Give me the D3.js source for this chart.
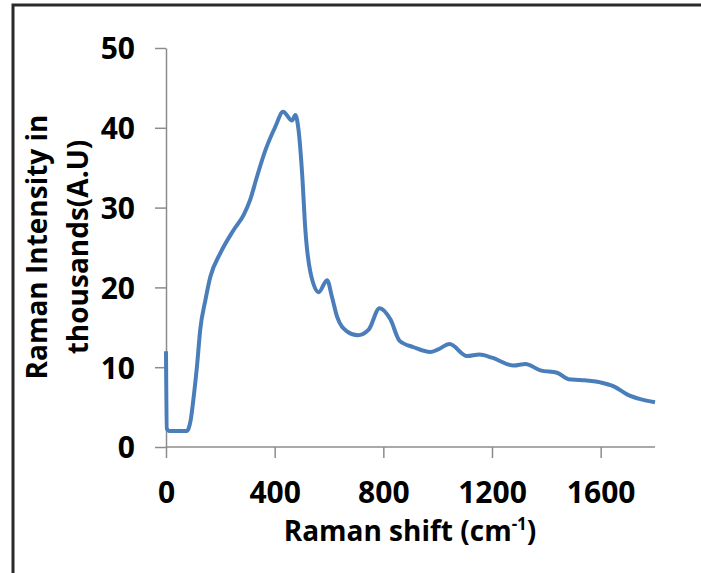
<!DOCTYPE html>
<html>
<head>
<meta charset="utf-8">
<script src="https://cdn.jsdelivr.net/npm/d3@7"></script>
<style>
  html, body { margin: 0; padding: 0; background: #fff; }
  svg { display: block; }
  .tick text { font-family: "Open Sans", sans-serif; font-weight: 700; fill: #000; }
</style>
</head>
<body>
<svg id="chart" width="701" height="573"></svg>
<script>
// Raman shift (cm^-1)
const shift = [0, 3, 12, 40, 76, 84, 90, 102, 114, 126, 145, 163, 200, 249, 286, 310, 335, 366, 402, 431, 464, 476, 488, 501, 513, 531, 562, 593, 611, 630, 666, 706, 746, 786, 826, 860, 912, 973, 1000, 1044, 1108, 1154, 1200, 1280, 1323, 1378, 1440, 1482, 1525, 1599, 1648, 1697, 1746, 1800];
// Raman intensity in thousands (A.U)
const intensity = [12.0, 2.3, 2.0, 2.0, 2.0, 2.4, 3.2, 6.3, 10.1, 14.7, 18.4, 21.3, 24.3, 27.2, 29.1, 31.0, 33.9, 37.2, 40.1, 42.0, 40.9, 41.6, 39.7, 34.3, 27.2, 22.0, 19.4, 20.9, 18.8, 16.3, 14.5, 14.0, 14.7, 17.4, 16.0, 13.3, 12.5, 11.9, 12.2, 12.9, 11.4, 11.6, 11.2, 10.2, 10.4, 9.6, 9.3, 8.5, 8.4, 8.1, 7.6, 6.6, 6.0, 5.6];
const xTicks = [0, 400, 800, 1200, 1600];
const yTicks = [0, 10, 20, 30, 40, 50];

const svg = d3.select("#chart");

// outer frame
svg.append("rect")
  .attr("x", 13).attr("y", 5).attr("width", 700).attr("height", 620)
  .attr("fill", "none").attr("stroke", "#2a2a2a").attr("stroke-width", 3);

const x = d3.scaleLinear().domain([0, 1800]).range([166, 655]);
const y = d3.scaleLinear().domain([0, 50]).range([447, 48]);

const axisColor = "#8c8c8c";

const gx = svg.append("g").attr("transform", "translate(0,447)")
  .call(d3.axisBottom(x).tickValues(xTicks).tickSize(11).tickSizeOuter(0).tickFormat(d3.format("d")));
gx.selectAll("path, line").attr("stroke", axisColor).attr("stroke-width", 1.5);
gx.selectAll("text").attr("font-size", 30).attr("dy", null).attr("y", 56);
gx.select(".domain").attr("d", `M${x(0)},0H${x(1800)}`);

const gy = svg.append("g").attr("transform", "translate(166,0)")
  .call(d3.axisLeft(y).tickValues(yTicks).tickSize(11).tickSizeOuter(0).tickPadding(20));
gy.selectAll("path, line").attr("stroke", axisColor).attr("stroke-width", 1.5);
gy.selectAll("text").attr("font-size", 30).attr("dy", "0.36em");

// data line
const data = shift.map((s, i) => [s, intensity[i]]);
svg.append("path")
  .datum(data)
  .attr("fill", "none")
  .attr("stroke", "#4a7ebb")
  .attr("stroke-width", 4)
  .attr("stroke-linejoin", "round")
  .attr("d", d3.line().x(d => x(d[0])).y(d => y(d[1])).curve(d3.curveMonotoneX));

// axis titles
const xt = svg.append("text")
  .attr("x", 410).attr("y", 541)
  .attr("text-anchor", "middle")
  .attr("font-family", "'Open Sans', sans-serif").attr("font-weight", 700)
  .attr("font-size", 28).attr("fill", "#000");
xt.append("tspan").text("Raman shift (cm");
xt.append("tspan").attr("font-size", 17).attr("dy", -11).text("-1");
xt.append("tspan").attr("dy", 11).text(")");

const yt = svg.append("text")
  .attr("transform", "translate(0,247) rotate(-90)")
  .attr("text-anchor", "middle")
  .attr("font-family", "'Open Sans', sans-serif").attr("font-weight", 700)
  .attr("font-size", 28).attr("fill", "#000");
yt.append("tspan").attr("x", 0).attr("y", 47).text("Raman Intensity in");
yt.append("tspan").attr("x", 0).attr("y", 88).text("thousands(A.U)");
</script>
</body>
</html>
